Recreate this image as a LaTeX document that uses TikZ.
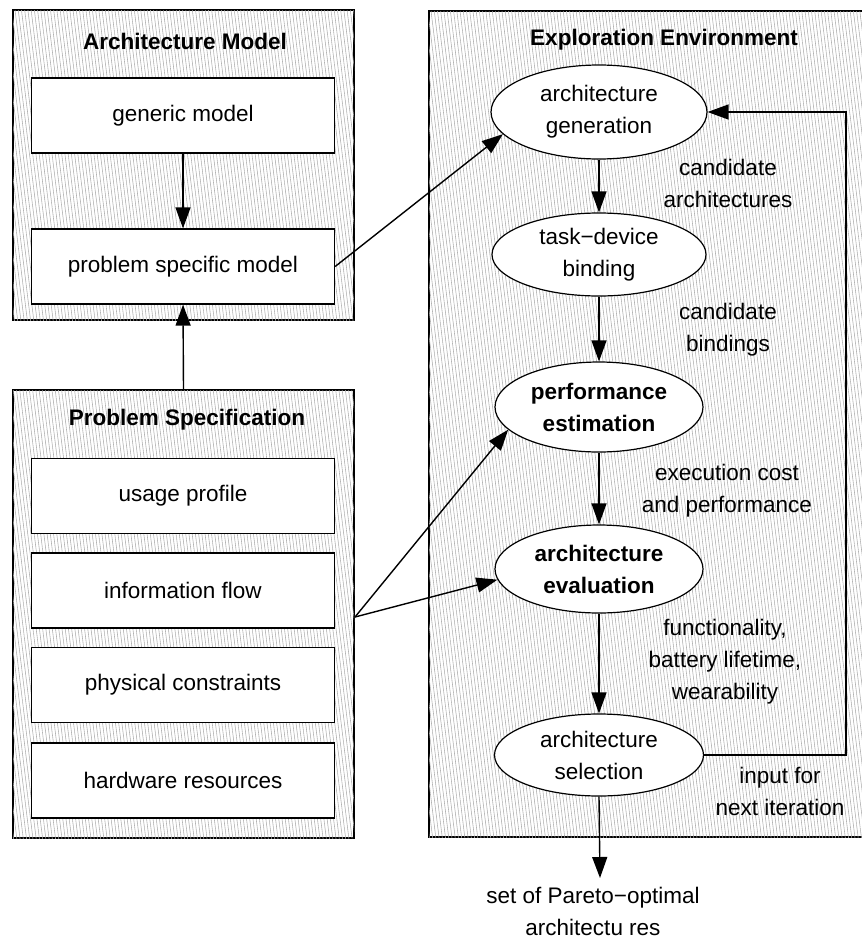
\documentclass[tikz,border=0pt]{standalone}
\usepackage{fontspec}
\setmainfont{Liberation Sans}
\usetikzlibrary{shapes.geometric,arrows.meta,patterns.meta}
\begin{document}
\begin{tikzpicture}[x=1pt,y=-1pt,
  font=\fontsize{22.5}{32}\selectfont,
  panel/.style={draw=black, line width=1.3pt, rectangle, inner sep=0pt, fill=white,
     postaction={pattern={Lines[angle=97,distance=3.2pt,line width=0.55pt]}, pattern color=gray!65}},
  box/.style={draw, line width=1.3pt, fill=white, minimum width=303pt, minimum height=75pt, inner sep=0pt},
  proc/.style={ellipse, draw, line width=1.2pt, fill=white, align=center, inner sep=0pt},
  arr/.style={line width=1.4pt, -{Triangle[length=21pt,width=15pt]}},
  lbl/.style={align=center, inner sep=0pt},
  ttl/.style={inner sep=0pt, font=\fontsize{22.5}{32}\selectfont\bfseries}]
\useasboundingbox (0,0) rectangle (862,938);
% panels
\node[panel, minimum width=341pt, minimum height=310pt] (am) at (183.5,165) {};
\node[panel, minimum width=341pt, minimum height=448pt] (ps) at (183.5,614) {};
\begin{scope}
\clip (0,0) rectangle (862,938);
\node[panel, minimum width=451pt, minimum height=826pt] (ee) at (654.5,424) {};
\end{scope}
% titles
\node[ttl] (tam) at (185,41) {Architecture Model};
\node[ttl] (tps) at (187,420) {Problem Specification};
\node[ttl] (tee) at (664,40) {Exploration Environment};
% boxes
\node[box] (gm) at (183,115.5) {generic model};
\node[box] (psm) at (183,266.5) {problem specific model};
\node[box] (up) at (183,496) {usage profile};
\node[box] (if) at (183,590.5) {information flow};
\node[box] (pc) at (183,685) {physical constraints};
\node[box] (hr) at (183,780.5) {hardware resources};
% process ellipses
\node[proc, minimum width=216pt, minimum height=94pt] (gen) at (599,112) {architecture\\generation};
\node[proc, minimum width=214pt, minimum height=83pt] (tdb) at (599,254.5) {task−device\\binding};
\node[proc, minimum width=208pt, minimum height=90pt, font=\fontsize{22.5}{32}\selectfont\bfseries] (pe) at (599,407) {performance\\estimation};
\node[proc, minimum width=208pt, minimum height=88pt, font=\fontsize{22.5}{32}\selectfont\bfseries] (ae) at (599,569) {architecture\\evaluation};
\node[proc, minimum width=209pt, minimum height=82pt] (sel) at (599,755) {architecture\\selection};
% labels
\node[lbl] (l1) at (728,183) {candidate\\architectures};
\node[lbl] (l2) at (728,330) {candidate\\bindings};
\node[lbl] (l3) at (727,491) {execution cost\\and performance};
\node[lbl] (l4) at (725,662) {functionality,\\battery lifetime,\\wearability};
\node[lbl] (l5) at (780,791) {input for\\next iteration};
\node[lbl] (out) at (593,911) {set of Pareto−optimal\\architectu res};
% coordinates
\coordinate (ifo) at (355,617);
\coordinate (fb) at (846,0);
\coordinate (outtip) at (600,878);
% connectors
\draw[arr] (gm.south) -- (psm.north);
\draw[arr] (ps.north) -- (psm.south);
\draw[arr] (psm.east) -- (gen.193);
\draw[arr] (ifo) -- (pe.194);
\draw[arr] (ifo) -- (ae.186);
\draw[arr] (gen.south) -- (tdb.north);
\draw[arr] (tdb.south) -- (pe.north);
\draw[arr] (pe.south) -- (ae.north);
\draw[arr] (ae.south) -- (sel.north);
\draw[arr] (sel.south) -- (outtip);
\draw[arr] (sel.east) -| (fb |- gen.east) -- (gen.east);
\end{tikzpicture}
\end{document}
